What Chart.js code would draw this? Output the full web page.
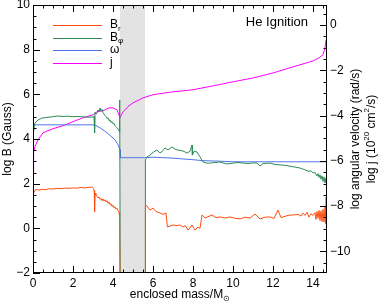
<!DOCTYPE html>
<html>
<head>
<meta charset="utf-8">
<script src="https://cdn.jsdelivr.net/npm/chart.js@4"></script>
<style>
  html, body { margin: 0; padding: 0; background: #fff; }
  canvas { display: block; }
</style>
</head>
<body>
<canvas id="chart" width="383" height="305"></canvas>
<script>
// enclosed mass (Msun) and log values

// B_r, log Gauss (left axis)
const brMass = [
  0, 0.01, 0.05, 0.1, 0.2, 0.3, 0.45, 0.6, 0.8, 1.0,
  1.2, 1.4, 1.6, 1.8, 2.0, 2.2, 2.4, 2.6, 2.8, 2.95,
  3.02, 3.06, 3.08, 3.1, 3.14, 3.2, 3.25, 3.3, 3.35, 3.4,
  3.45, 3.5, 3.55, 3.6, 3.65, 3.7, 3.75, 3.8, 3.85, 3.9,
  3.95, 4.0, 4.05, 4.1, 4.15, 4.2, 4.25, 4.3, 4.33, 4.35,
  5.6, 5.62, 5.7, 5.85, 6.0, 6.15, 6.35, 6.5, 6.65, 6.72,
  6.85, 7.0, 7.2, 7.35, 7.5, 7.62, 7.75, 7.85, 7.95, 8.1,
  8.25, 8.35, 8.45, 8.6, 8.75, 8.95, 9.15, 9.35, 9.6, 9.85,
  10.1, 10.35, 10.6, 10.85, 11.1, 11.35, 11.6, 11.85, 12.05, 12.25,
  12.4, 12.5, 12.75, 13.0, 13.25, 13.4, 13.5, 13.6, 13.7, 13.8,
  13.9, 14.0, 14.1, 14.15, 14.2, 14.25, 14.3, 14.35, 14.4, 14.45,
  14.5, 14.55, 14.6, 14.63, 14.66, 14.7
];
const brLog = [
  -2.5, 1.5, 1.62, 1.70, 1.74, 1.71, 1.75, 1.73, 1.77, 1.76,
  1.79, 1.78, 1.80, 1.79, 1.81, 1.80, 1.83, 1.81, 1.84, 1.85,
  1.78, 1.70, 0.75, 1.58, 1.50, 1.42, 1.36, 1.40, 1.30, 1.34,
  1.24, 1.32, 1.22, 1.28, 1.18, 1.24, 1.12, 1.18, 1.06, 1.10,
  0.98, 1.04, 0.92, 0.96, 0.86, 0.90, 0.80, 0.72, 0.55, -2.5,
  -2.5, 1.04, 1.00, 0.82, 0.91, 0.75, 0.69, 0.62, 0.69, 0.06,
  0.10, 0.15, 0.12, 0.15, 0.06, 0.12, -0.08, 0.02, 0.15, -0.08,
  0.06, 0.0, 0.60, 0.46, 0.52, 0.60, 0.48, 0.51, 0.46, 0.51,
  0.45, 0.42, 0.50, 0.46, 0.64, 0.42, 0.50, 0.51, 0.44, 0.82,
  0.48, 0.51, 0.58, 0.60, 0.62, 0.55, 0.68, 0.58, 0.72, 0.50,
  0.66, 0.58, 0.70, 0.40, 0.75, 0.45, 0.80, 0.35, 0.78, 0.30,
  0.85, 0.28, 0.95, 0.20, 1.40, -2.5
];

// B_phi, log Gauss (left axis)
const bphiMass = [
  0, 0.02, 0.1, 0.25, 0.45, 0.75, 1.0, 1.25, 1.5, 1.75,
  2.0, 2.25, 2.5, 2.75, 2.95, 3.05, 3.08, 3.1, 3.15, 3.2,
  3.25, 3.3, 3.35, 3.4, 3.45, 3.5, 3.55, 3.6, 3.65, 3.7,
  3.75, 3.8, 3.85, 3.9, 3.95, 4.0, 4.05, 4.1, 4.15, 4.2,
  4.25, 4.3, 4.33, 4.34, 4.36, 5.6, 5.62, 5.7, 5.85, 6.0,
  6.2, 6.35, 6.5, 6.6, 6.75, 6.95, 7.1, 7.2, 7.35, 7.5,
  7.6, 7.7, 7.85, 7.95, 7.97, 8.05, 8.2, 8.35, 8.5, 8.7,
  8.85, 9.1, 9.35, 9.5, 9.7, 10.0, 10.25, 10.5, 10.75, 11.0,
  11.2, 11.35, 11.5, 11.85, 12.1, 12.5, 12.75, 13.0, 13.35, 13.6,
  13.8, 13.9, 14.0, 14.1, 14.2, 14.25, 14.3, 14.35, 14.4, 14.45,
  14.5, 14.55, 14.6, 14.65, 14.7
];
const bphiLog = [
  3.5, 4.3, 4.72, 4.85, 4.94, 4.97, 5.0, 5.03, 5.01, 5.02,
  5.0, 5.01, 4.99, 4.98, 4.98, 5.0, 4.27, 5.2, 5.12, 5.15,
  5.3, 5.22, 5.39, 5.25, 5.33, 5.18, 5.12, 5.05, 5.0, 4.92,
  4.95, 4.82, 4.86, 4.74, 4.78, 4.68, 4.70, 4.6, 4.55, 4.5,
  4.45, 4.38, 4.30, 5.75, -2.5, -2.5, 3.06, 3.20, 3.28, 3.40,
  3.51, 3.37, 3.48, 3.60, 3.51, 3.64, 3.55, 3.51, 3.49, 3.46,
  3.42, 3.37, 3.45, 3.73, 3.28, 3.45, 3.42, 3.20, 2.97, 2.92,
  2.92, 2.95, 2.97, 2.93, 2.88, 2.92, 2.95, 2.92, 2.90, 2.93,
  2.92, 2.79, 2.90, 2.92, 2.86, 2.83, 2.80, 2.76, 2.70, 2.62,
  2.55, 2.58, 2.48, 2.50, 2.35, 2.45, 2.28, 2.40, 2.20, 2.35,
  2.10, 2.30, 2.03, 2.25, 1.6
];

// omega, log rad/s (right axis)
const omegaMass = [0, 0.5, 1.0, 1.5, 2.0, 2.5, 3.0, 3.1, 3.35, 3.7, 4.1, 4.25, 4.35,
  4.37, 5.0, 5.6, 6.0, 7.0, 8.0, 8.5, 9.5, 10.0, 12.0, 14.0, 14.7];
const omegaLog = [-4.41, -4.41, -4.41, -4.41, -4.41, -4.41, -4.41, -4.42, -4.54, -4.76, -5.07, -5.29, -5.51,
  -5.86, -5.86, -5.86, -5.84, -5.88, -5.95, -5.99, -6.02, -6.04, -6.04, -6.04, -6.04];

// j, log 1e20 cm^2/s (right axis)
const jMass = [0, 0.03, 0.1, 0.25, 0.5, 1.0, 1.5, 2.0, 2.5, 3.0, 3.2, 3.5, 3.8, 4.0, 4.2, 4.35,
  4.5, 4.8, 5.0, 5.5, 6.0, 7.0, 7.5, 8.0, 9.0, 10.0, 11.0, 12.0, 13.0, 13.5, 14.0, 14.3,
  14.5, 14.6, 14.65, 14.68];
const jLog = [-6.6, -5.6, -5.37, -5.07, -4.76, -4.58, -4.45, -4.27, -4.10, -3.97, -3.83, -3.79, -3.66, -3.66, -3.75, -4.10,
  -3.83, -3.57, -3.44, -3.22, -3.08, -2.95, -2.91, -2.86, -2.69, -2.51, -2.34, -2.12, -1.85, -1.72, -1.59, -1.45,
  -1.32, -1.01, -0.66, -0.6];

const xTicks = [0, 2, 4, 6, 8, 10, 12, 14];
const leftTicks = [-2, 0, 2, 4, 6, 8, 10];
const rightTicks = [-10, -8, -6, -4, -2, 0];
const heBand = [4.35, 5.6];

const FONT = '"Liberation Sans", Arial, Helvetica, sans-serif';
const colors = { br: '#ff4d0f', bphi: '#2e8b57', omega: '#4f74e8', j: '#ff00ff' };

const pts = (xs, ys) => xs.map((x, i) => ({ x: x, y: ys[i] }));
const fmt = (v) => (v < 0 ? '\u2212' + Math.abs(v) : String(v));

// draws a string made of normal / sup / sub pieces, centred on x
function richText(ctx, parts, x, y, size) {
    const big = size + 'px ' + FONT;
    const small = Math.round(size * 0.68) + 'px ' + FONT;
    let w = 0;
    parts.forEach(p => {
        ctx.font = (p.sup || p.sub) ? small : big;
        w += ctx.measureText(p.t).width;
    });
    let cx = x - w / 2;
    ctx.textAlign = 'left';
    parts.forEach(p => {
        ctx.font = (p.sup || p.sub) ? small : big;
        const dy = p.sup ? -size * 0.4 : (p.sub ? size * 0.3 : 0);
        ctx.fillText(p.t, cx, y + dy);
        cx += ctx.measureText(p.t).width;
    });
    return w;
}

const decor = {
    id: 'decor',
    beforeDatasetsDraw(chart) {
        const { ctx, chartArea: ca, scales } = chart;
        const x1 = scales.x.getPixelForValue(heBand[0]);
        const x2 = scales.x.getPixelForValue(heBand[1]);
        ctx.save();
        ctx.fillStyle = '#e3e3e3';
        ctx.fillRect(x1, ca.top, x2 - x1, ca.bottom - ca.top);
        ctx.restore();
    },
    afterDraw(chart) {
        const { ctx, chartArea: ca, scales } = chart;
        ctx.save();
        ctx.strokeStyle = '#000';
        ctx.lineWidth = 1;
        ctx.strokeRect(ca.left + 0.5, ca.top + 0.5, ca.right - ca.left - 1, ca.bottom - ca.top - 1);

        const isMajor = v => Math.abs(v % 2) < 1e-6;
        ctx.beginPath();
        // bottom + top
        const xs = scales.x;
        for (let v = 0; v <= xs.max + 1e-6; v += 0.5) {
            const p = Math.round(xs.getPixelForValue(v)) + 0.5;
            const len = isMajor(v) ? 7 : 3.5;
            ctx.moveTo(p, ca.bottom); ctx.lineTo(p, ca.bottom - len);
            ctx.moveTo(p, ca.top); ctx.lineTo(p, ca.top + len);
        }
        // left
        const yl = scales.yB;
        for (let v = yl.min; v <= yl.max + 1e-6; v += 0.5) {
            const p = Math.round(yl.getPixelForValue(v)) + 0.5;
            const len = isMajor(v) ? 7 : 3.5;
            ctx.moveTo(ca.left, p); ctx.lineTo(ca.left + len, p);
        }
        // right
        const yr = scales.yR;
        for (let v = Math.ceil(yr.min / 0.5) * 0.5; v <= yr.max + 1e-6; v += 0.5) {
            const p = Math.round(yr.getPixelForValue(v)) + 0.5;
            const len = isMajor(v) ? 7 : 3.5;
            ctx.moveTo(ca.right, p); ctx.lineTo(ca.right - len, p);
        }
        ctx.stroke();

        ctx.fillStyle = '#000';
        ctx.textBaseline = 'middle';
        const midY = (ca.top + ca.bottom) / 2;

        // axis titles
        ctx.save();
        ctx.translate(8, midY);
        ctx.rotate(-Math.PI / 2);
        richText(ctx, [{ t: 'log B (Gauss)' }], 0, 0, 12);
        ctx.restore();

        ctx.save();
        ctx.translate(356, midY);
        ctx.rotate(-Math.PI / 2);
        richText(ctx, [{ t: 'log angular velocity (rad/s)' }], 0, 0, 12);
        ctx.restore();

        ctx.save();
        ctx.translate(372, midY);
        ctx.rotate(-Math.PI / 2);
        richText(ctx, [{ t: 'log j (10' }, { t: '20', sup: true }, { t: ' cm' }, { t: '2', sup: true }, { t: '/s)' }], 0, 0, 12);
        ctx.restore();

        richText(ctx, [{ t: 'enclosed mass/M' }, { t: '\u2299', sub: true }], (ca.left + ca.right) / 2, 295, 12);

        // legend
        const legend = [
            { c: colors.br, parts: [{ t: 'B' }, { t: 'r', sub: true }] },
            { c: colors.bphi, parts: [{ t: 'B' }, { t: '\u03c6', sub: true }] },
            { c: colors.omega, parts: [{ t: '\u03c9' }] },
            { c: colors.j, parts: [{ t: 'j' }] }
        ];
        legend.forEach((it, i) => {
            const y = ca.top + 20 + i * 12.5;
            ctx.strokeStyle = it.c;
            ctx.beginPath();
            ctx.moveTo(ca.left + 20, Math.round(y) + 0.5);
            ctx.lineTo(ca.left + 69, Math.round(y) + 0.5);
            ctx.stroke();
            let w = 0;
            it.parts.forEach(p => {
                ctx.font = (p.sub ? 8 : 12) + 'px ' + FONT;
                w += ctx.measureText(p.t).width;
            });
            richText(ctx, it.parts, ca.left + 77 + w / 2, y, 12);
        });

        // label
        ctx.font = '13px ' + FONT;
        ctx.textAlign = 'right';
        ctx.textBaseline = 'alphabetic';
        ctx.fillText('He Ignition', ca.right - 19, ca.top + 21);
        ctx.restore();
    }
};

const line = (label, data, color, axis) => ({
    label: label,
    data: data,
    yAxisID: axis,
    borderColor: color,
    backgroundColor: color,
    borderWidth: 1,
    pointRadius: 0,
    tension: 0,
    fill: false
});

const tickFont = { family: FONT, size: 12 };
const noGrid = { display: false, drawTicks: false };

new Chart(document.getElementById('chart').getContext('2d'), {
    type: 'line',
    data: {
        datasets: [
            line('B_r', pts(brMass, brLog), colors.br, 'yB'),
            line('B_phi', pts(bphiMass, bphiLog), colors.bphi, 'yB'),
            line('omega', pts(omegaMass, omegaLog), colors.omega, 'yR'),
            line('j', pts(jMass, jLog), colors.j, 'yR')
        ]
    },
    options: {
        responsive: false,
        animation: false,
        devicePixelRatio: 1,
        layout: { padding: { top: 5, left: 0, right: 0, bottom: 0 } },
        plugins: { legend: { display: false }, tooltip: { enabled: false } },
        scales: {
            x: {
                type: 'linear',
                min: 0,
                max: 14.7,
                afterBuildTicks: s => { s.ticks = xTicks.map(v => ({ value: v })); },
                afterFit: s => { s.height = 32; s.paddingLeft = 0; s.paddingRight = 0; },
                grid: noGrid,
                border: { display: false },
                ticks: { font: tickFont, color: '#000', padding: 3, maxRotation: 0, autoSkip: false, callback: fmt }
            },
            yB: {
                position: 'left',
                min: -2,
                max: 10,
                afterBuildTicks: s => { s.ticks = leftTicks.map(v => ({ value: v })); },
                afterFit: s => { s.width = 33; s.paddingTop = 0; s.paddingBottom = 0; },
                grid: noGrid,
                border: { display: false },
                ticks: { font: tickFont, color: '#000', padding: 3, autoSkip: false, callback: fmt }
            },
            yR: {
                position: 'right',
                min: -10.95,
                max: 0.88,
                afterBuildTicks: s => { s.ticks = rightTicks.map(v => ({ value: v })); },
                afterFit: s => { s.width = 56; s.paddingTop = 0; s.paddingBottom = 0; },
                grid: noGrid,
                border: { display: false },
                ticks: { font: tickFont, color: '#000', padding: 3, autoSkip: false, callback: fmt }
            }
        }
    },
    plugins: [decor]
});
</script>
</body>
</html>
